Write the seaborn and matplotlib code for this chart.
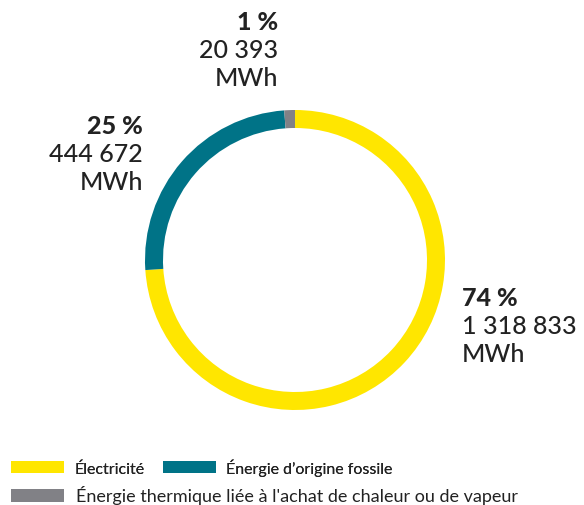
import matplotlib
matplotlib.use("Agg")
import matplotlib.pyplot as plt
from matplotlib.patches import Patch
import seaborn as sns

sns.set_theme(style="white")
plt.rcParams["font.family"] = ["Lato", "DejaVu Sans"]

categories = ["Électricité", "Énergie d’origine fossile",
              "Énergie thermique liée à l'achat de chaleur ou de vapeur"]
values = [1318833, 444672, 20393]
pct_labels = ["74 %", "25 %", "1 %"]
mwh_labels = ["1 318 833", "444 672", "20 393"]
colors = ["#FFE600", "#007387", "#818186"]
txt = "#222222"

fig = plt.figure(figsize=(5.84, 5.06), dpi=100)
ax = fig.add_axes([145 / 584, (506 - 411) / 506, 300 / 584, 300 / 506])
ax.pie(values, colors=colors, startangle=90, counterclock=False, radius=1,
       wedgeprops=dict(width=0.12, linewidth=0))
ax.set_xlim(-1, 1)
ax.set_ylim(-1, 1)
ax.set_aspect("equal")
ax.axis("off")

# label positions in pixels (x, y of first line), alignment
label_pos = [(462, 298, "left"), (143, 126, "right"), (278, 22, "right")]
for (x, y, ha), p, m in zip(label_pos, pct_labels, mwh_labels):
    fx = x / 584
    fig.text(fx, 1 - y / 506, p, ha=ha, va="center", fontsize=18,
             fontweight="black", color=txt)
    fig.text(fx, 1 - (y + 29) / 506, m, ha=ha, va="center", fontsize=18,
             fontweight="medium", color=txt)
    fig.text(fx, 1 - (y + 57) / 506, "MWh", ha=ha, va="center", fontsize=18,
             fontweight="medium", color=txt)

handles = [Patch(facecolor=c, edgecolor="none") for c in colors]
leg_kw = dict(frameon=False, handleheight=0.75,
              handletextpad=0.65, columnspacing=1.2, borderaxespad=0,
              borderpad=0, labelcolor=txt)
leg1 = fig.legend(handles[:2], categories[:2], ncol=2, loc="center left",
                  bbox_to_anchor=(11 / 584, 1 - 468 / 506), fontsize=11.5,
                  handlelength=3.3, **leg_kw)
fig.add_artist(leg1)
fig.legend(handles[2:], categories[2:], loc="center left",
           bbox_to_anchor=(11 / 584, 1 - 496 / 506), fontsize=13,
           handlelength=2.95, **leg_kw)

fig.savefig("out.png", dpi=100)
